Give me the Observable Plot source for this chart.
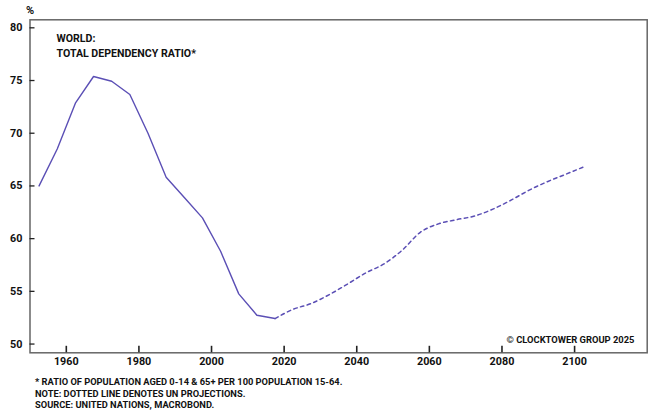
<!DOCTYPE html>
<html><head><meta charset="utf-8">
<script src="https://cdn.jsdelivr.net/npm/d3@7"></script>
<script src="https://cdn.jsdelivr.net/npm/@observablehq/plot@0.6"></script>
<style>
body{margin:0;background:#fff;font-family:Roboto,sans-serif;}
#notes{margin:0 0 0 35px;padding-top:6px;font-size:9.3px;font-weight:700;line-height:11.7px;color:#111;}
#notes div{white-space:nowrap;}
</style></head><body>
<div id="chart"></div>
<div id="notes"></div>
<script>
const histYears = [1952.5, 1957.5, 1962.5, 1967.5, 1972.5, 1977.5, 1982.5, 1987.5, 1992.5, 1997.5, 2002.5, 2007.5, 2012.5, 2017.5];
const histValues = [65.0, 68.5, 72.85, 75.38, 74.93, 73.67, 70.0, 65.83, 63.9, 61.97, 58.8, 54.76, 52.73, 52.42];
const projYears = [2017.5, 2022.5, 2027.5, 2032.5, 2037.5, 2042.5, 2047.5, 2052.5, 2057.5, 2062.5, 2067.5, 2072.5, 2077.5, 2082.5, 2087.5, 2092.5, 2097.5, 2102.5];
const projValues = [52.42, 53.3, 53.85, 54.7, 55.7, 56.75, 57.6, 58.9, 60.6, 61.4, 61.8, 62.15, 62.8, 63.65, 64.6, 65.4, 66.1, 66.8];
const xTicks = [1960, 1980, 2000, 2020, 2040, 2060, 2080, 2100];
const yTicks = [50, 55, 60, 65, 70, 75, 80];
const titleLines = ["WORLD:", "TOTAL DEPENDENCY RATIO*"];
const unitLabel = "%";
const credit = "© CLOCKTOWER GROUP 2025";
const notes = [
  "* RATIO OF POPULATION AGED 0-14 & 65+ PER 100 POPULATION 15-64.",
  "NOTE: DOTTED LINE DENOTES UN PROJECTIONS.",
  "SOURCE: UNITED NATIONS, MACROBOND."
];
const lineColor = "#5b4fb5";

const hist = histYears.map((year, i) => ({year, value: histValues[i]}));
const proj = projYears.map((year, i) => ({year, value: projValues[i]}));

const W = 660, H = 370, ML = 29.5, MR = 13.3, MT = 19.3, MB = 17.7;
const frameW = W - ML - MR, frameH = H - MT - MB;

const chart = Plot.plot({
  width: W,
  height: H,
  marginLeft: ML,
  marginRight: MR,
  marginTop: MT,
  marginBottom: MB,
  x: {domain: [1950, 2120]},
  y: {domain: [49.17, 80.76]},
  style: {fontFamily: "Roboto, sans-serif", fontWeight: 700, fontSize: "10.5px", color: "#111", background: "white"},
  marks: [
    Plot.frame({stroke: "#666", strokeWidth: 1.5}),
    Plot.axisX(xTicks, {tickSize: 0, tickPadding: 5, label: null, tickFormat: d => String(d), fontSize: 10.8, fontWeight: 700}),
    Plot.axisY(yTicks, {tickSize: 0, tickPadding: 7.5, label: null, fontSize: 10.8, fontWeight: 700}),
    Plot.tickX(xTicks, {x: d => d, insetTop: frameH - 6.5, stroke: "#222", strokeWidth: 1.6}),
    Plot.tickY(yTicks, {y: d => d, insetRight: frameW - 5, stroke: "#222", strokeWidth: 1.3}),
    Plot.line(hist, {x: "year", y: "value", stroke: lineColor, strokeWidth: 1.4}),
    Plot.line(proj, {x: "year", y: "value", stroke: lineColor, strokeWidth: 1.5, strokeDasharray: "3.5,3.5", curve: "monotone-x"}),
    Plot.text([unitLabel], {text: d => d, frameAnchor: "top-left", dy: -9.3, textAnchor: "middle", lineAnchor: "middle", fontSize: 11, fontWeight: 700}),
    Plot.text([titleLines[0]], {text: d => d, frameAnchor: "top-left", dx: 26.5, dy: 18.7, textAnchor: "start", lineAnchor: "middle", fontSize: 10.6, fontWeight: 700}),
    Plot.text([titleLines[1]], {text: d => d, frameAnchor: "top-left", dx: 26.5, dy: 33.4, textAnchor: "start", lineAnchor: "middle", fontSize: 10.6, fontWeight: 700}),
    Plot.text([credit], {text: d => d, frameAnchor: "bottom-right", dx: -12.7, dy: -13.3, textAnchor: "end", lineAnchor: "middle", fontSize: 9.4, fontWeight: 700})
  ]
});
document.getElementById("chart").append(chart);
const notesEl = document.getElementById("notes");
for (const n of notes) {
  const d = document.createElement("div");
  d.textContent = n;
  notesEl.append(d);
}
</script></body></html>
